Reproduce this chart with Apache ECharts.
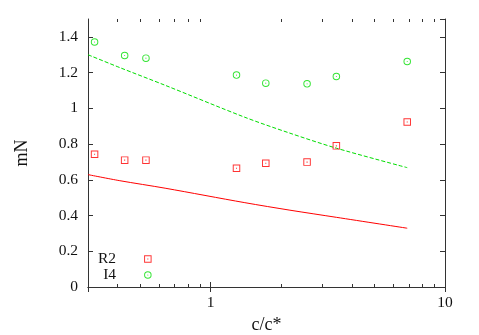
<!DOCTYPE html>
<html><head><meta charset="utf-8">
<script src="https://cdn.jsdelivr.net/npm/echarts@6/dist/echarts.min.js"></script>
<style>html,body{margin:0;padding:0;background:#fff}#c{width:479px;height:335px}</style>
</head><body><div id="c"></div>
<script>
// measured points c/c*
const xPoints = [0.32, 0.43, 0.53, 1.29, 1.72, 2.58, 3.44, 6.9];
const r2Values = [0.743, 0.71, 0.71, 0.665, 0.693, 0.699, 0.79, 0.923];
const i4Values = [1.371, 1.296, 1.281, 1.186, 1.141, 1.137, 1.178, 1.262];
// model curves
const curveX = [0.3, 0.41, 0.64, 1.4, 2.18, 3.44, 6.9];
const r2Curve = [0.629, 0.595, 0.553, 0.472, 0.430, 0.390, 0.329];
const i4Curve = [1.300, 1.228, 1.129, 0.950, 0.861, 0.777, 0.668];
// axis ticks
const yTicks = [0, 0.2, 0.4, 0.6, 0.8, 1, 1.2, 1.4];
const xMajorTicks = [1, 10];
const xMinorTicks = [0.4, 0.5, 0.6, 0.7, 0.8, 0.9, 2, 3, 4, 5, 6, 7, 8, 9];
const seriesNames = ['R2', 'I4'];

const FONT = "'Liberation Serif', 'Times New Roman', serif";
const AXIS = '#333';
const RED = '#ff0000';
const GREEN = '#00dd00';
const sqPath = 'path://M0,0H10V10H0Z M1.3,1.3V8.7H8.7V1.3Z M4.3,4.3H5.7V5.7H4.3Z';
const ciPath = 'path://M0,5A5,5 0 1,1 10,5A5,5 0 1,1 0,5Z M1.3,5A3.7,3.7 0 1,0 8.7,5A3.7,3.7 0 1,0 1.3,5Z M4.3,5A0.7,0.7 0 1,1 5.7,5A0.7,0.7 0 1,1 4.3,5Z';

const zip = (xs, ys) => xs.map((x, i) => [x, ys[i]]);

const chart = echarts.init(document.getElementById('c'), null, {renderer: 'canvas'});
const yCommon = {
  type: 'value', min: 0, max: 1.5, interval: 0.2,
  axisLine: {show: true, lineStyle: {color: AXIS, width: 1}},
  axisTick: {show: true, inside: true, length: 5, lineStyle: {color: AXIS}},
  splitLine: {show: false}
};
const xCommon = {
  type: 'log', logBase: 10, min: 0.3, max: 10,
  axisLine: {show: true, lineStyle: {color: AXIS, width: 1}},
  axisTick: {show: true, inside: true, length: 5, lineStyle: {color: AXIS}},
  splitLine: {show: false}, minorTick: {show: false}
};
chart.setOption({
  animation: false,
  backgroundColor: '#fff',
  textStyle: {fontFamily: FONT},
  grid: {left: 88, right: 34, top: 19, bottom: 48, containLabel: false, outerBoundsMode: 'none'},
  legend: {
    data: seriesNames, orient: 'vertical', align: 'right',
    left: 98, top: 251, padding: 0, itemGap: 0,
    itemWidth: 7.5, itemHeight: 7.5,
    textStyle: {fontFamily: FONT, fontSize: 15.5, color: '#111', lineHeight: 16, padding: [0, 23, 0, 0]},
    selectedMode: false
  },
  xAxis: [
    Object.assign({}, xCommon, {
      position: 'bottom',
      name: 'c/c*', nameLocation: 'middle', nameGap: 29,
      nameTextStyle: {fontFamily: FONT, fontSize: 18, color: '#111'},
      axisLabel: {
        show: true, margin: 8, fontFamily: FONT, fontSize: 15.5, color: '#111',
        formatter: v => (xMajorTicks.some(t => Math.abs(t - v) < 1e-9) ? String(v) : '')
      }
    }),
    Object.assign({}, xCommon, {position: 'top', axisLabel: {show: false}})
  ],
  yAxis: [
    Object.assign({}, yCommon, {
      position: 'left',
      name: 'mN', nameLocation: 'middle', nameGap: 57, nameRotate: 90,
      nameTextStyle: {fontFamily: FONT, fontSize: 18, color: '#111'},
      axisLabel: {
        show: true, margin: 10, fontFamily: FONT, fontSize: 15.5, color: '#111', showMaxLabel: false,
        formatter: v => (yTicks.some(t => Math.abs(t - v) < 1e-9) ? String(v) : '')
      }
    }),
    Object.assign({}, yCommon, {position: 'right', axisLabel: {show: false}})
  ],
  series: [
    {
      name: 'R2 model', type: 'line', data: zip(curveX, r2Curve), showSymbol: false, symbol: 'none',
      smooth: 0.3, lineStyle: {color: RED, width: 1}, itemStyle: {color: RED}, silent: true, z: 2
    },
    {
      name: 'I4 model', type: 'line', data: zip(curveX, i4Curve), showSymbol: false, symbol: 'none',
      smooth: 0.3, lineStyle: {color: GREEN, width: 1, type: [4, 2]}, itemStyle: {color: GREEN}, silent: true, z: 2
    },
    {
      name: 'R2', type: 'scatter', data: zip(xPoints, r2Values), symbol: sqPath, symbolSize: 7.5,
      symbolKeepAspect: true, itemStyle: {color: RED, borderWidth: 0}, z: 3
    },
    {
      name: 'I4', type: 'scatter', data: zip(xPoints, i4Values), symbol: ciPath, symbolSize: 7.5,
      symbolKeepAspect: true, itemStyle: {color: GREEN, borderWidth: 0}, z: 3
    },
    {
      name: 'minor ticks', type: 'custom', silent: true, clip: false, z: 5,
      data: xMinorTicks.map(v => [v, 0]),
      renderItem: function (params, api) {
        const cs = params.coordSys;
        const p = api.coord([api.value(0), 0]);
        const x = Math.round(p[0]) + 0.5;
        const top = cs.y, bot = cs.y + cs.height;
        const st = {stroke: AXIS, lineWidth: 1};
        return {
          type: 'group', children: [
            {type: 'line', shape: {x1: x, y1: bot, x2: x, y2: bot - 3}, style: st},
            {type: 'line', shape: {x1: x, y1: top, x2: x, y2: top + 3}, style: st}
          ]
        };
      }
    }
  ]
});
</script>
</body></html>
